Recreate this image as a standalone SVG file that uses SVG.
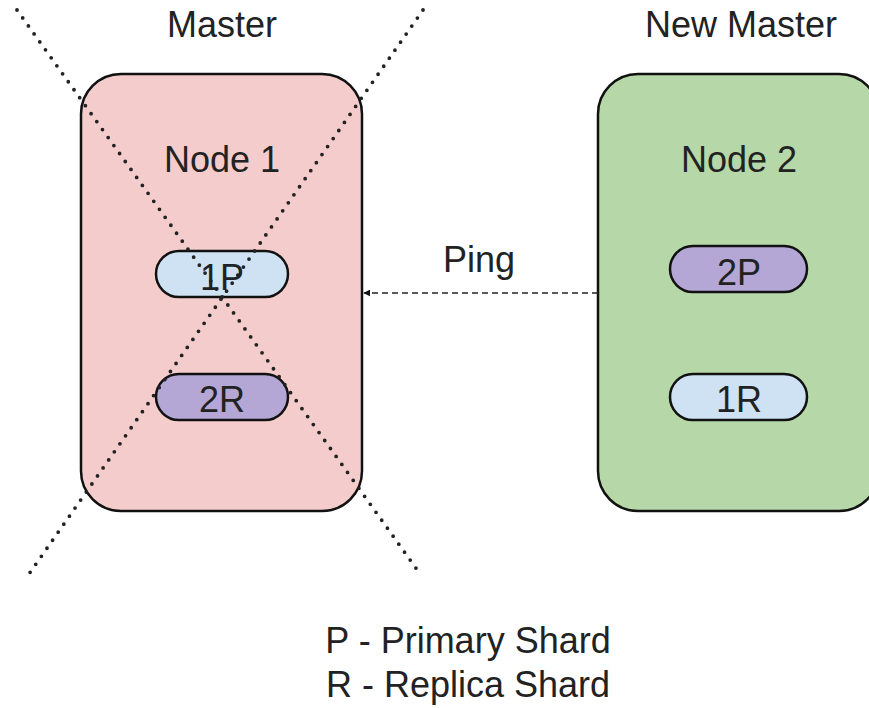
<svg xmlns="http://www.w3.org/2000/svg" width="869" height="708" viewBox="0 0 869 708">
<style>
  text { font-family: "Liberation Sans", Arial, sans-serif; font-size: 36px; fill: #222; text-anchor: middle; }
  .node { stroke: #111; stroke-width: 2.5; }
  .pill { stroke: #111; stroke-width: 2.5; }
  .cross { stroke: #222; stroke-width: 3.8; stroke-linecap: round; stroke-dasharray: 0 9.8; fill: none; }
  .ping { stroke: #222; stroke-width: 1.6; stroke-dasharray: 6 4; fill: none; }
</style>
<defs>
  <marker id="arrow" viewBox="0 0 10 10" refX="9" refY="5" markerWidth="7" markerHeight="7" markerUnits="userSpaceOnUse" orient="auto">
    <path d="M0,0 L10,5 L0,10 z" fill="#111"/>
  </marker>
</defs>
<rect width="869" height="708" fill="#fff"/>
<text x="222" y="37">Master</text>
<text x="741" y="37">New Master</text>

<g id="node1">
  <rect class="node" x="81" y="74" width="281" height="437" rx="40" fill="#f4cccc"/>
  <text x="222" y="172">Node 1</text>
</g>
<g id="shard-1P">
  <rect class="pill" x="156" y="251" width="132" height="46" rx="23" fill="#cfe2f3"/>
  <text x="222" y="290">1P</text>
</g>
<g id="shard-2R">
  <rect class="pill" x="156" y="374" width="132" height="46" rx="23" fill="#b4a7d6"/>
  <text x="222" y="412">2R</text>
</g>

<g id="node2">
  <rect class="node" x="598" y="74" width="281" height="437" rx="40" fill="#b6d7a8"/>
  <text x="739" y="172">Node 2</text>
</g>
<g id="shard-2P">
  <rect class="pill" x="670" y="246" width="137" height="46" rx="23" fill="#b4a7d6"/>
  <text x="739" y="285">2P</text>
</g>
<g id="shard-1R">
  <rect class="pill" x="670" y="374" width="137" height="46" rx="23" fill="#cfe2f3"/>
  <text x="739" y="412">1R</text>
</g>

<g id="connectors">
  <line class="ping" x1="598" y1="293" x2="364" y2="293" marker-end="url(#arrow)"/>
  <text x="479" y="272">Ping</text>
</g>

<g id="cross">
  <line class="cross" x1="17" y1="10" x2="418" y2="571"/>
  <line class="cross" x1="423" y1="10" x2="29" y2="574"/>
</g>

<text x="468" y="653">P - Primary Shard</text>
<text x="468" y="697">R - Replica Shard</text>
</svg>
